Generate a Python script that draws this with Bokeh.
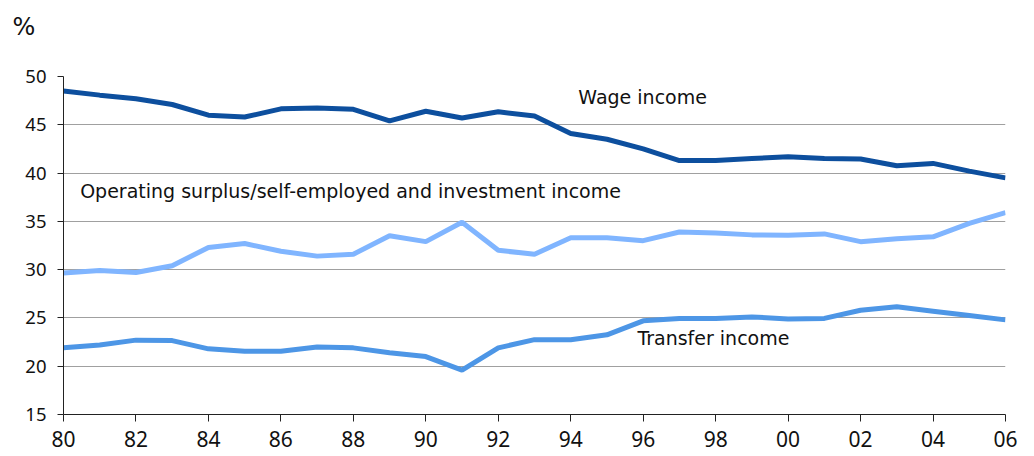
from bokeh.plotting import figure
from bokeh.models import FixedTicker, Label, Range1d
from bokeh.embed import file_html
from bokeh.resources import INLINE

years = list(range(1980, 2007))
wage = [48.5, 48.07, 47.7, 47.1, 46.0, 45.8, 46.65, 46.75, 46.6, 45.4,
        46.4, 45.7, 46.35, 45.9, 44.1, 43.5, 42.5, 41.3, 41.3, 41.5,
        41.7, 41.5, 41.45, 40.75, 41.0, 40.2, 39.5]
operating = [29.66, 29.9, 29.7, 30.4, 32.3, 32.7, 31.9, 31.4, 31.6, 33.5,
             32.9, 34.9, 32.0, 31.6, 33.3, 33.3, 33.0, 33.9, 33.8, 33.6,
             33.55, 33.7, 32.9, 33.2, 33.4, 34.8, 35.9]
transfer = [21.9, 22.2, 22.7, 22.65, 21.8, 21.55, 21.55, 22.0, 21.9, 21.4,
            21.0, 19.6, 21.9, 22.75, 22.75, 23.25, 24.7, 24.95, 24.95, 25.1,
            24.9, 24.95, 25.8, 26.15, 25.7, 25.25, 24.8]

x_ticks = list(range(1980, 2007, 2))
x_tick_labels = ["80", "82", "84", "86", "88", "90", "92", "94", "96", "98",
                 "00", "02", "04", "06"]
y_ticks = [15, 20, 25, 30, 35, 40, 45, 50]

series_names = ["Wage income",
                "Operating surplus/self-employed and investment income",
                "Transfer income"]
colors = ["#0d4f9e", "#80b5ff", "#4d96e6"]

p = figure(frame_width=942, frame_height=338,
           min_border_left=63, min_border_right=24,
           min_border_top=76, min_border_bottom=40,
           x_range=Range1d(1980, 2006), y_range=Range1d(15, 50),
           output_backend="svg", toolbar_location=None,
           background_fill_color="white", border_fill_color="white",
           title="%\n")
p.outline_line_color = None
p.title.align = "left"
p.title.offset = -51
p.title.standoff = 15
p.title.vertical_align = "bottom"
p.title.text_font = "DejaVu Sans"
p.title.text_font_size = "24px"
p.title.text_font_style = "normal"
p.title.text_color = "#111111"

p.line(years, transfer, line_color=colors[2], line_width=5)
p.line(years, operating, line_color=colors[1], line_width=5)
p.line(years, wage, line_color=colors[0], line_width=5)

# axes
p.xaxis.ticker = FixedTicker(ticks=x_ticks)
p.xaxis.major_label_overrides = {t: l for t, l in zip(x_ticks, x_tick_labels)}
p.yaxis.ticker = FixedTicker(ticks=y_ticks)
for ax in (p.xaxis, p.yaxis):
    ax.axis_line_color = "#222222"
    ax.axis_line_width = 1
    ax.major_tick_line_color = "#222222"
    ax.major_tick_in = 0
    ax.minor_tick_line_color = None
    ax.major_label_text_color = "#111111"
    ax.major_label_text_font = "Noto Sans"
p.xaxis.major_tick_out = 7
p.yaxis.major_tick_out = 6
p.xaxis.major_label_text_font_size = "21px"
p.yaxis.major_label_text_font_size = "18.5px"
p.xaxis.major_label_standoff = 9
p.yaxis.major_label_standoff = 11

p.xgrid.grid_line_color = None
p.ygrid.grid_line_color = "#a0a0a0"
p.ygrid.grid_line_width = 1

# annotations
label_font = "DejaVu Sans"
label_size = "19px"
p.add_layout(Label(x=1994.21, y=46.69, text=series_names[0],
                   text_font=label_font, text_font_size=label_size,
                   text_color="#111111"))
p.add_layout(Label(x=1980.46, y=36.96, text=series_names[1],
                   text_font=label_font, text_font_size=label_size,
                   text_color="#111111"))
p.add_layout(Label(x=1995.84, y=21.76, text=series_names[2],
                   text_font=label_font, text_font_size=label_size,
                   text_color="#111111"))

open("out.html", "w").write(file_html(p, INLINE))
